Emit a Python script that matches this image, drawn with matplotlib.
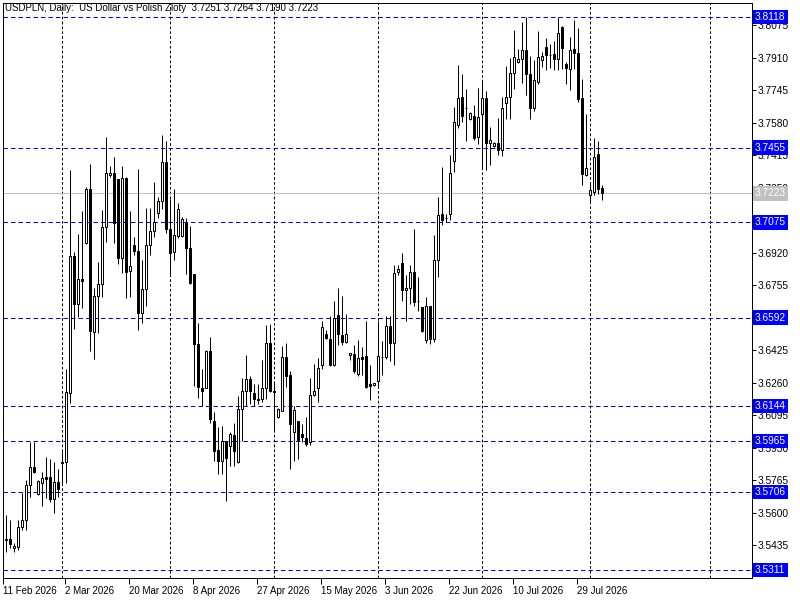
import matplotlib
matplotlib.use("Agg")
import matplotlib.pyplot as plt
import numpy as np

plt.rcParams['font.family'] = ['Liberation Sans', 'DejaVu Sans']
plt.rcParams['lines.scale_dashes'] = False

# daily USDPLN candles (oldest first)
opens = [3.5463, 3.5468, 3.5423, 3.5428, 3.5529, 3.5565, 3.5742, 3.5834, 3.5697, 3.5753,
         3.5783, 3.5783, 3.5671, 3.5758, 3.5854, 3.5859, 3.6209, 3.6905, 3.6661, 3.6788,
         3.6971, 3.7245, 3.6519, 3.6702, 3.6763, 3.7052, 3.7316, 3.7326, 3.7296, 3.6895,
         3.7301, 3.6829, 3.6961, 3.6930, 3.6616, 3.6737, 3.6961, 3.7032, 3.7123, 3.7184,
         3.7382, 3.7042, 3.6925, 3.7006, 3.7006, 3.7072, 3.6945, 3.6813, 3.6458, 3.6235,
         3.6235, 3.6423, 3.6067, 3.5920, 3.5864, 3.5966, 3.5940, 3.5996, 3.5859, 3.6128,
         3.6220, 3.6280, 3.6209, 3.6174, 3.6179, 3.6235, 3.6463, 3.6220, 3.6088, 3.6118,
         3.6392, 3.6301, 3.6011, 3.6067, 3.6001, 3.5981, 3.5961, 3.6199, 3.6235, 3.6352,
         3.6509, 3.6484, 3.6352, 3.6605, 3.6504, 3.6468, 3.6402, 3.6407, 3.6306, 3.6392,
         3.6397, 3.6255, 3.6250, 3.6270, 3.6392, 3.6392, 3.6550, 3.6463, 3.6824, 3.6869,
         3.6732, 3.6742, 3.6824, 3.6676, 3.6646, 3.6478, 3.6651, 3.6484, 3.6885, 3.7118,
         3.7098, 3.7118, 3.7387, 3.7570, 3.7712, 3.7656, 3.7600, 3.7615, 3.7509, 3.7626,
         3.7707, 3.7478, 3.7463, 3.7478, 3.7443, 3.7682, 3.7712, 3.7834, 3.7890, 3.7905,
         3.7951, 3.7829, 3.7656, 3.7788, 3.7900, 3.7966, 3.7925, 3.7930, 3.7905, 3.8067,
         3.7879, 3.7854, 3.7956, 3.7935, 3.7707, 3.7316, 3.7215, 3.7230, 3.7423, 3.7251]
highs = [3.5590, 3.5565, 3.5448, 3.5565, 3.5702, 3.5768, 3.5961, 3.5961, 3.5768, 3.5808,
         3.5885, 3.5874, 3.5859, 3.5824, 3.5920, 3.6331, 3.7341, 3.6925, 3.7017, 3.7133,
         3.7255, 3.7372, 3.6742, 3.6874, 3.7138, 3.7509, 3.7362, 3.7407, 3.7296, 3.7362,
         3.7306, 3.7133, 3.7001, 3.7346, 3.6885, 3.7149, 3.7149, 3.7280, 3.7204, 3.7519,
         3.7489, 3.7194, 3.7245, 3.7174, 3.7103, 3.7098, 3.7057, 3.6813, 3.6565, 3.6331,
         3.6428, 3.6494, 3.6113, 3.6037, 3.6042, 3.5966, 3.6011, 3.6057, 3.6194, 3.6286,
         3.6402, 3.6296, 3.6255, 3.6255, 3.6377, 3.6555, 3.6560, 3.6265, 3.6133, 3.6448,
         3.6463, 3.6321, 3.6143, 3.6067, 3.6052, 3.6088, 3.6286, 3.6357, 3.6387, 3.6575,
         3.6529, 3.6600, 3.6676, 3.6742, 3.6702, 3.6610, 3.6412, 3.6453, 3.6478, 3.6443,
         3.6575, 3.6352, 3.6260, 3.6575, 3.6473, 3.6600, 3.6600, 3.6859, 3.6859, 3.6920,
         3.6808, 3.6859, 3.7042, 3.6798, 3.6646, 3.6697, 3.6651, 3.7011, 3.7204, 3.7357,
         3.7118, 3.7418, 3.7661, 3.7874, 3.7829, 3.7753, 3.7636, 3.7671, 3.7758, 3.7798,
         3.7742, 3.7560, 3.7484, 3.7605, 3.7712, 3.7869, 3.7910, 3.8052, 3.7956, 3.8093,
         3.8118, 3.7920, 3.7900, 3.8047, 3.7940, 3.8011, 3.7981, 3.7996, 3.8118, 3.8072,
         3.7890, 3.8016, 3.8103, 3.8062, 3.7803, 3.7626, 3.7280, 3.7504, 3.7489, 3.7264]
lows = [3.5402, 3.5423, 3.5402, 3.5412, 3.5514, 3.5514, 3.5681, 3.5803, 3.5692, 3.5636,
        3.5676, 3.5656, 3.5600, 3.5681, 3.5742, 3.5753, 3.6159, 3.6534, 3.6595, 3.6641,
        3.6966, 3.6423, 3.6382, 3.6514, 3.6697, 3.6976, 3.7306, 3.6971, 3.6864, 3.6819,
        3.6692, 3.6697, 3.6910, 3.6529, 3.6565, 3.6651, 3.6910, 3.7001, 3.7098, 3.7143,
        3.7022, 3.6808, 3.6885, 3.6996, 3.7001, 3.6813, 3.6760, 3.6245, 3.6184, 3.6143,
        3.6235, 3.6057, 3.5864, 3.5798, 3.5798, 3.5661, 3.5839, 3.5839, 3.5854, 3.5966,
        3.6143, 3.6154, 3.6143, 3.6154, 3.6164, 3.6179, 3.6215, 3.6022, 3.6083, 3.6118,
        3.6240, 3.5824, 3.5864, 3.5874, 3.5961, 3.5940, 3.5945, 3.6194, 3.6164, 3.6331,
        3.6484, 3.6347, 3.6347, 3.6453, 3.6453, 3.6463, 3.6377, 3.6311, 3.6296, 3.6301,
        3.6235, 3.6174, 3.6245, 3.6240, 3.6301, 3.6382, 3.6372, 3.6352, 3.6808, 3.6676,
        3.6575, 3.6661, 3.6651, 3.6626, 3.6519, 3.6463, 3.6458, 3.6468, 3.6798, 3.7062,
        3.7077, 3.7088, 3.7331, 3.7555, 3.7585, 3.7489, 3.7595, 3.7494, 3.7473, 3.7346,
        3.7341, 3.7367, 3.7458, 3.7418, 3.7412, 3.7600, 3.7600, 3.7753, 3.7885, 3.7783,
        3.7722, 3.7600, 3.7641, 3.7778, 3.7864, 3.7849, 3.7859, 3.7849, 3.7849, 3.7854,
        3.7778, 3.7747, 3.7854, 3.7686, 3.7265, 3.7311, 3.7179, 3.7215, 3.7220, 3.7190]
closes = [3.5468, 3.5443, 3.5433, 3.5529, 3.5565, 3.5742, 3.5834, 3.5808, 3.5763, 3.5778,
          3.5773, 3.5671, 3.5758, 3.5722, 3.5859, 3.6215, 3.6905, 3.6661, 3.6788, 3.6778,
          3.7245, 3.6524, 3.6702, 3.6763, 3.7052, 3.7326, 3.7326, 3.7072, 3.6895, 3.7301,
          3.6824, 3.6854, 3.6930, 3.6616, 3.6737, 3.6961, 3.7032, 3.7077, 3.7184, 3.7382,
          3.7042, 3.6920, 3.7011, 3.7143, 3.7093, 3.6945, 3.6768, 3.6458, 3.6240, 3.6220,
          3.6423, 3.6077, 3.5915, 3.5864, 3.5966, 3.5879, 3.6001, 3.5915, 3.6128, 3.6220,
          3.6280, 3.6220, 3.6179, 3.6179, 3.6235, 3.6463, 3.6220, 3.6215, 3.6128, 3.6392,
          3.6296, 3.6052, 3.6123, 3.5971, 3.5986, 3.5951, 3.6199, 3.6220, 3.6336, 3.6544,
          3.6489, 3.6352, 3.6590, 3.6509, 3.6468, 3.6509, 3.6412, 3.6321, 3.6387, 3.6382,
          3.6240, 3.6245, 3.6260, 3.6397, 3.6390, 3.6550, 3.6463, 3.6819, 3.6839, 3.6732,
          3.6742, 3.6824, 3.6671, 3.6674, 3.6524, 3.6651, 3.6484, 3.6885, 3.7113, 3.7088,
          3.7096, 3.7326, 3.7585, 3.7707, 3.7615, 3.7654, 3.7631, 3.7504, 3.7610, 3.7707,
          3.7478, 3.7494, 3.7478, 3.7443, 3.7656, 3.7712, 3.7834, 3.7915, 3.7905, 3.7951,
          3.7829, 3.7656, 3.7798, 3.7915, 3.7920, 3.7925, 3.7923, 3.7905, 3.8037, 3.7961,
          3.7859, 3.7951, 3.7935, 3.7702, 3.7321, 3.7352, 3.7240, 3.7407, 3.7245, 3.7223]

date_labels = ['11 Feb 2026', '2 Mar 2026', '20 Mar 2026', '8 Apr 2026', '27 Apr 2026',
               '15 May 2026', '3 Jun 2026', '22 Jun 2026', '10 Jul 2026', '29 Jul 2026']
date_bars = [-0.8, 14.8, 30.8, 46.8, 62.8, 78.8, 94.8, 110.8, 126.8, 142.8]
grid_bars = [14, 41, 67, 93, 119, 146, 176]
levels = [3.8118, 3.7455, 3.7075, 3.6592, 3.6144, 3.5965, 3.5706, 3.5311]
bid = 3.7223
price_ticks = [3.8075 - 0.0165 * k for k in range(17)]
# these two scale labels sit fully under a level label
hidden_ticks = ['3.7085', '3.6590']

o = np.array(opens)
h = np.array(highs)
l = np.array(lows)
c = np.array(closes)
x = np.arange(len(o))

px = 0.72  # one pixel in points at 100 dpi
fig = plt.figure(figsize=(8, 6), dpi=100)
ax = fig.add_axes([2.5 / 800, 22 / 600, 749.5 / 800, 575 / 600])
ax.set_xlim(-0.875, 186.5)
ax.set_ylim(3.5270, 3.8189)

# grid and level lines
for g in grid_bars:
    ax.axvline(g, color='black', lw=px, ls=(0, (2.0, 1.5)), zorder=1)
for lv in levels:
    ax.axhline(lv, color='#0000ff', lw=px, ls=(0, (3.2, 2.2)), zorder=1)
ax.axhline(bid, color='#c0c0c0', lw=px, zorder=1)

# candles
ax.vlines(x, l, h, color='black', lw=px, zorder=2)
up = c >= o
body = np.maximum(np.abs(c - o), 0.00006)
ax.bar(x[up], body[up], bottom=o[up], width=0.5, color='white',
       edgecolor='black', linewidth=px, zorder=3)
ax.bar(x[~up], body[~up], bottom=c[~up], width=0.5, color='black',
       edgecolor='black', linewidth=px, zorder=3)

# axes look
for s in ax.spines.values():
    s.set_linewidth(px)
    s.set_color('black')
ax.yaxis.tick_right()
ax.set_yticks(price_ticks)
tick_text = ['%.4f' % p for p in price_ticks]
ax.set_yticklabels([t if t not in hidden_ticks else '' for t in tick_text])
ax.tick_params(axis='y', length=3, width=px, pad=1, labelsize=7.3, colors='black')
ax.set_xticks(date_bars)
ax.set_xticklabels(date_labels, ha='left')
ax.tick_params(axis='x', length=4, width=px, pad=2, labelsize=7, colors='black')

# price labels on the right scale
for lv in levels:
    ax.annotate('%.4f' % lv, xy=(1, lv), xycoords=('axes fraction', 'data'),
                xytext=(2.2, 0), textcoords='offset points', ha='left', va='center',
                fontsize=7.3, color='white', annotation_clip=False, zorder=5,
                bbox=dict(boxstyle='square,pad=0.22', fc='#0000ff', ec='none'))
ax.annotate('%.4f' % bid, xy=(1, bid), xycoords=('axes fraction', 'data'),
            xytext=(2.2, 0), textcoords='offset points', ha='left', va='center',
            fontsize=7.3, color='white', annotation_clip=False, zorder=5,
            bbox=dict(boxstyle='square,pad=0.22', fc='#c0c0c0', ec='none'))

fig.text(5 / 800, 1 - 3 / 600,
         'USDPLN, Daily:  US Dollar vs Polish Zloty  3.7251 3.7264 3.7190 3.7223',
         ha='left', va='top', fontsize=7, color='black')

fig.savefig('out.png', dpi=100, facecolor='white')
